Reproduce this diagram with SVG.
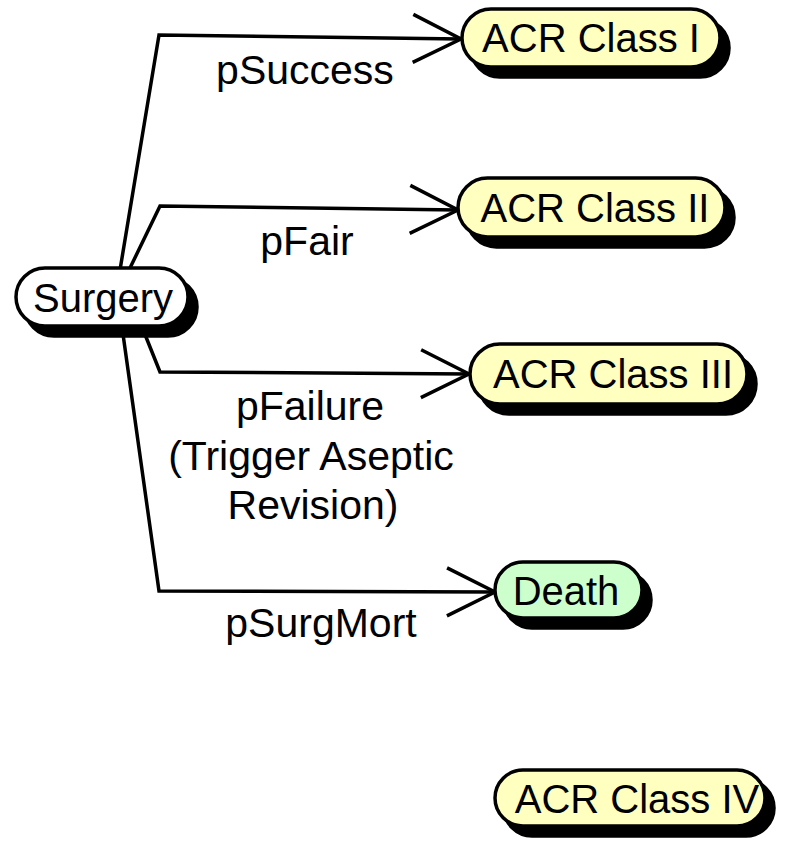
<svg xmlns="http://www.w3.org/2000/svg" width="787" height="843" viewBox="0 0 787 843">
<style>
.shadow{fill:#000;stroke:#000;stroke-width:3.5}
.pill{stroke:#000;stroke-width:3.5}
.yellow{fill:#ffffc0}
.green{fill:#ccffcc}
.white{fill:#fff}
.ntext{font-family:"Liberation Sans",Arial,sans-serif;font-size:40px;fill:#000;text-anchor:middle}
.ltext{font-family:"Liberation Sans",Arial,sans-serif;font-size:41px;fill:#000;text-anchor:middle}
.conn{fill:none;stroke:#000;stroke-width:3.5;stroke-linejoin:miter;marker-end:url(#vee)}
</style>
<defs>
<marker id="vee" markerUnits="userSpaceOnUse" markerWidth="60" markerHeight="60" viewBox="-52 -30 56 60" refX="0" refY="0" orient="auto" overflow="visible">
<path d="M-48,-24 L0,0 L-48,24" fill="none" stroke="#000" stroke-width="3.5"/>
</marker>
</defs>
<rect width="787" height="843" fill="#fff"/>
<g id="connectors">
<polyline class="conn" points="120,270 159,35 461,39"/>
<polyline class="conn" points="130,268 160,206 458,210"/>
<polyline class="conn" points="142,327 160,372 469,374"/>
<polyline class="conn" points="122,327 159,591 495,592"/>
<text class="ltext" x="305" y="84">pSuccess</text>
<text class="ltext" x="307" y="255">pFair</text>
<text class="ltext" x="310" y="420">pFailure</text>
<text class="ltext" x="311" y="470">(Trigger Aseptic</text>
<text class="ltext" x="313" y="519">Revision)</text>
<text class="ltext" x="321" y="637">pSurgMort</text>
</g>
<g id="surgery">
<rect class="shadow" x="25" y="278" width="172" height="58" rx="29"/>
<rect class="pill white" x="16" y="268" width="172" height="58" rx="29"/>
<text class="ntext" x="103" y="312">Surgery</text>
</g>
<g id="acr1">
<rect class="shadow" x="471" y="19" width="258" height="58" rx="29"/>
<rect class="pill yellow" x="462" y="9" width="258" height="58" rx="29"/>
<text class="ntext" x="591" y="52">ACR Class I</text>
</g>
<g id="acr2">
<rect class="shadow" x="467" y="188" width="267" height="59" rx="29.5"/>
<rect class="pill yellow" x="458" y="178" width="267" height="59" rx="29.5"/>
<text class="ntext" x="595" y="222">ACR Class II</text>
</g>
<g id="acr3">
<rect class="shadow" x="479" y="354" width="277" height="60" rx="30"/>
<rect class="pill yellow" x="470" y="344" width="277" height="60" rx="30"/>
<text class="ntext" x="613" y="388">ACR Class III</text>
</g>
<g id="death">
<rect class="shadow" x="504" y="572" width="147" height="56" rx="28"/>
<rect class="pill green" x="495" y="562" width="147" height="56" rx="28"/>
<text class="ntext" x="566" y="605">Death</text>
</g>
<g id="acr4">
<rect class="shadow" x="504" y="780" width="270" height="56" rx="28"/>
<rect class="pill yellow" x="495" y="770" width="270" height="56" rx="28"/>
<text class="ntext" x="637" y="813">ACR Class IV</text>
</g>
</svg>
